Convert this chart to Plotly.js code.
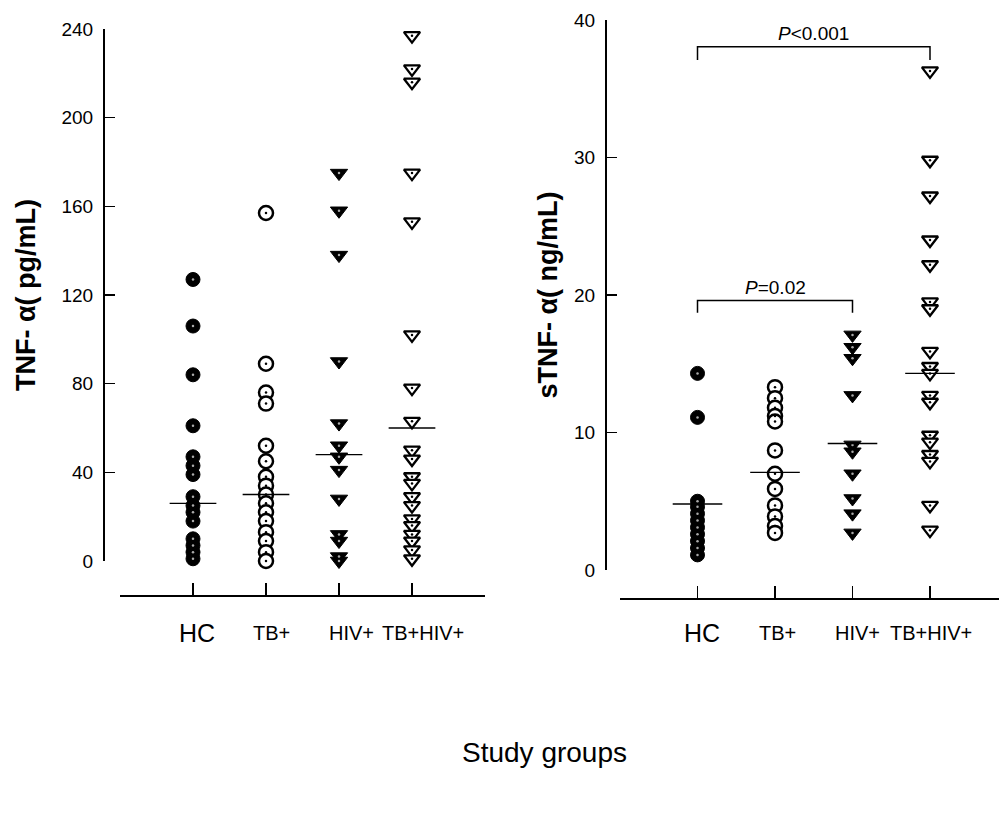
<!DOCTYPE html>
<html><head><meta charset="utf-8">
<script src="https://cdn.plot.ly/plotly-3.0.1.min.js"></script>
<style>body{margin:0;background:#fff}#chart{width:999px;height:819px}</style>
</head><body><div id="chart"></div>
<script>
// ---- data ----
const groups = ['HC', 'TB+', 'HIV+', 'TB+HIV+'];
const groupPos = [1, 2, 3, 4];
// TNF-alpha (pg/mL)
const tnfHC = [127, 106, 84, 61, 47, 43, 39, 29, 25, 22, 18, 10, 7, 4, 1];
const tnfTB = [157, 89, 76, 71, 52, 45, 38, 34, 30, 26, 22, 18, 13, 9, 4, 0];
const tnfHIV = [175, 158, 138, 90, 62, 52, 47, 41, 28, 12, 9, 2, 0];
const tnfTBHIV = [237, 222, 216, 175, 153, 102, 78, 63, 50, 46, 38, 35, 29, 25, 19, 16, 12, 9, 5, 1];
const tnfMedians = [26, 30, 48, 60];
// sTNF-alpha (ng/mL)
const stnfHC = [14.3, 11.1, 5.0, 4.6, 4.1, 3.6, 3.1, 2.6, 2.1, 1.6, 1.1];
const stnfTB = [13.3, 12.5, 11.8, 11.2, 10.8, 8.7, 7.0, 5.9, 4.7, 3.9, 3.2, 2.7];
const stnfHIV = [17.1, 16.2, 15.4, 12.7, 9.1, 8.6, 7.0, 5.2, 4.1, 2.7];
const stnfTBHIV = [36.3, 29.8, 27.2, 24.0, 22.2, 19.5, 19.0, 15.9, 14.8, 14.3, 12.7, 12.2, 9.8, 9.3, 8.4, 7.9, 4.7, 2.9];
const stnfMedians = [4.8, 7.1, 9.2, 14.3];
// significance brackets (right panel)
const bracketFrom = [1, 1];
const bracketTo = [4, 3];
const bracketLevel = [38.05, 19.6];
const bracketDrop = [0.95, 0.9];
const bracketText = ['<i>P</i>&lt;0.001', '<i>P</i>=0.02'];
const yTicksLeft = [0, 40, 80, 120, 160, 200, 240];
const yTicksRight = [0, 10, 20, 30, 40];

const FONT = '"Liberation Sans", Arial, sans-serif';
const half = 0.32;

function groupTraces(values, pos, style, xa, ya) {
  const xs = values.map(() => pos);
  return [{
    type: 'scatter', mode: 'markers', x: xs, y: values, xaxis: xa, yaxis: ya,
    cliponaxis: false, showlegend: false, hoverinfo: 'y',
    marker: {symbol: style.symbol, size: style.size, color: style.color, line: style.line}
  }, {
    type: 'scatter', mode: 'markers', x: xs, y: values, xaxis: xa, yaxis: ya,
    cliponaxis: false, showlegend: false, hoverinfo: 'skip',
    marker: {symbol: 'circle', size: 2.5, color: style.dotColor, line: {width: 0}}
  }];
}

const styleHC = {symbol: 'circle', size: 14, color: '#000', line: {color: '#000', width: 1}, dotColor: '#aaa'};
const styleTB = {symbol: 'circle', size: 14, color: '#fff', line: {color: '#000', width: 2.5}, dotColor: '#000'};
const styleHIV = {symbol: 'triangle-down', size: 15, color: '#000', line: {color: '#000', width: 1}, dotColor: '#aaa'};
const styleTBHIV = {symbol: 'triangle-down', size: 14, color: '#fff', line: {color: '#000', width: 2.3}, dotColor: '#000'};
const styles = [styleHC, styleTB, styleHIV, styleTBHIV];

let traces = [];
[tnfHC, tnfTB, tnfHIV, tnfTBHIV].forEach((v, i) => {
  traces = traces.concat(groupTraces(v, groupPos[i], styles[i], 'x', 'y'));
});
[stnfHC, stnfTB, stnfHIV, stnfTBHIV].forEach((v, i) => {
  traces = traces.concat(groupTraces(v, groupPos[i], styles[i], 'x2', 'y2'));
});
// median lines
groupPos.forEach((p, i) => {
  traces.push({type: 'scatter', mode: 'lines', x: [p - half, p + half], y: [tnfMedians[i], tnfMedians[i]],
    xaxis: 'x', yaxis: 'y', cliponaxis: false, showlegend: false, hoverinfo: 'skip',
    line: {color: '#000', width: 1.3}});
  traces.push({type: 'scatter', mode: 'lines', x: [p - half, p + half], y: [stnfMedians[i], stnfMedians[i]],
    xaxis: 'x2', yaxis: 'y2', cliponaxis: false, showlegend: false, hoverinfo: 'skip',
    line: {color: '#000', width: 1.3}});
});
// brackets
const annotations = [];
bracketFrom.forEach((f, i) => {
  const t = bracketTo[i], L = bracketLevel[i], d = bracketDrop[i];
  traces.push({type: 'scatter', mode: 'lines', x: [f, f, t, t], y: [L - d, L, L, L - d],
    xaxis: 'x2', yaxis: 'y2', cliponaxis: false, showlegend: false, hoverinfo: 'skip',
    line: {color: '#000', width: 1.5}});
  annotations.push({xref: 'x2', yref: 'y2', x: (f + t) / 2, y: L, yanchor: 'bottom', yshift: 1,
    showarrow: false, text: bracketText[i], font: {family: FONT, size: 19, color: '#000'}});
});
// category labels
const labelShiftL = [4, 5, 12, 11];
const labelShiftR = [4, 2, 5, 1];
const labelSize = [25, 20, 20, 20];
groups.forEach((g, i) => {
  annotations.push({xref: 'x', yref: 'paper', x: groupPos[i], xshift: labelShiftL[i], y: 1 - 633 / 819,
    yanchor: 'middle', showarrow: false, text: g,
    font: {family: FONT, size: labelSize[i], color: '#000'}});
  annotations.push({xref: 'x2', yref: 'paper', x: groupPos[i], xshift: labelShiftR[i], y: 1 - 633 / 819,
    yanchor: 'middle', showarrow: false, text: g,
    font: {family: FONT, size: labelSize[i], color: '#000'}});
});
annotations.push({xref: 'paper', yref: 'paper', x: 544 / 999, y: 1 - 770 / 819, showarrow: false,
  text: 'Study groups', font: {family: FONT, size: 28, color: '#000'}});

const xBase = {showline: true, linecolor: '#000', linewidth: 1.5, ticks: 'inside', ticklen: 12, tickwidth: 1.5,
  tickcolor: '#000', tickvals: [0, 1, 2, 3, 4, 5], showticklabels: false, showgrid: false, zeroline: false,
  anchor: 'free', fixedrange: true};
const yBase = {showline: true, linecolor: '#000', linewidth: 1.5, ticks: 'inside', ticklen: 10, tickwidth: 1.5,
  tickcolor: '#000', showgrid: false, zeroline: false, anchor: 'free', fixedrange: true,
  tickfont: {family: FONT, size: 19, color: '#000'}, ticklabelstandoff: 6};

const layout = {
  width: 999, height: 819, margin: {l: 0, r: 0, t: 0, b: 0},
  paper_bgcolor: '#fff', plot_bgcolor: 'rgba(0,0,0,0)', showlegend: false,
  font: {family: FONT, color: '#000'},
  xaxis: Object.assign({}, xBase, {domain: [120 / 999, 485 / 999], range: [0, 5], position: 1 - 595 / 819}),
  yaxis: Object.assign({}, yBase, {domain: [1 - 561 / 819, 1 - 29 / 819], range: [0, 240], tickvals: yTicksLeft,
    position: 103 / 999,
    title: {text: '<b>TNF- α( pg/mL)</b>', font: {family: FONT, size: 27, color: '#000'}, standoff: 16}}),
  xaxis2: Object.assign({}, xBase, {domain: [620 / 999, 1], range: [0, 379 / 77.5], position: 1 - 598 / 819}),
  yaxis2: Object.assign({}, yBase, {domain: [1 - 570 / 819, 1 - 20 / 819], range: [0, 40], tickvals: yTicksRight,
    position: 605 / 999,
    title: {text: '<b>sTNF- α( ng/mL)</b>', font: {family: FONT, size: 27, color: '#000'}, standoff: 7}}),
  annotations: annotations
};
Plotly.newPlot('chart', traces, layout, {displayModeBar: false, staticPlot: true});
</script></body></html>
